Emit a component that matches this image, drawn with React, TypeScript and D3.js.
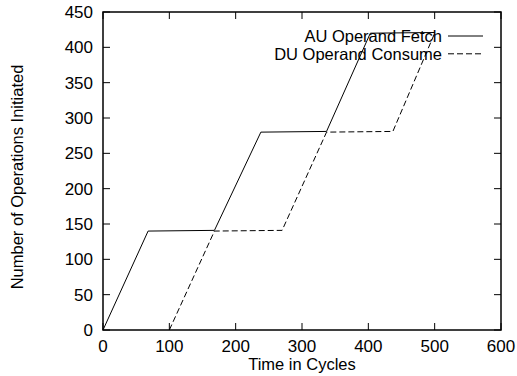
import { useEffect, useRef } from 'react';
import * as d3 from 'd3';

const xTicks = [0, 100, 200, 300, 400, 500, 600];
const yTicks = [0, 50, 100, 150, 200, 250, 300, 350, 400, 450];

const auCycles = [0, 68, 168, 238, 337, 403, 500];
const auOps = [0, 140, 141, 280, 281, 420, 421];
const duCycles = [100, 168, 270, 337, 437, 500];
const duOps = [0, 140, 141, 280, 281, 420];

const seriesNames = ['AU Operand Fetch', 'DU Operand Consume'];
const seriesDash = ['none', '6,3'];

const W = 517;
const H = 376;
const FONT = '"Liberation Sans", Arial, Helvetica, sans-serif';

export default function App() {
  const svgRef = useRef<SVGSVGElement>(null);

  useEffect(() => {
    if (!svgRef.current) return;
    const svg = d3.select(svgRef.current);
    svg.selectAll('*').remove();

    const margin = { top: 12, right: 16, bottom: 46, left: 103 };
    const w = W - margin.left - margin.right;
    const h = H - margin.top - margin.bottom;
    const g = svg.append('g').attr('transform', `translate(${margin.left},${margin.top})`);

    const x = d3.scaleLinear().domain([0, 600]).range([0, w]);
    const y = d3.scaleLinear().domain([0, 450]).range([h, 0]);
    const tickLen = 7;

    // Mirror ticks, all pointing inward (gnuplot style)
    xTicks.forEach(t => {
      g.append('line').attr('x1', x(t)).attr('x2', x(t)).attr('y1', h).attr('y2', h - tickLen)
        .attr('stroke', '#000').attr('stroke-width', 1);
      g.append('line').attr('x1', x(t)).attr('x2', x(t)).attr('y1', 0).attr('y2', tickLen)
        .attr('stroke', '#000').attr('stroke-width', 1);
      g.append('text').attr('x', x(t)).attr('y', h + 22).attr('text-anchor', 'middle')
        .attr('font-family', FONT).attr('font-size', '17px').attr('fill', '#000').text(t);
    });
    yTicks.forEach(t => {
      g.append('line').attr('x1', 0).attr('x2', tickLen).attr('y1', y(t)).attr('y2', y(t))
        .attr('stroke', '#000').attr('stroke-width', 1);
      g.append('line').attr('x1', w).attr('x2', w - tickLen).attr('y1', y(t)).attr('y2', y(t))
        .attr('stroke', '#000').attr('stroke-width', 1);
      g.append('text').attr('x', -10).attr('y', y(t)).attr('dy', '0.35em').attr('text-anchor', 'end')
        .attr('font-family', FONT).attr('font-size', '17px').attr('fill', '#000').text(t);
    });

    // Series
    const line = d3.line<[number, number]>().x(d => x(d[0])).y(d => y(d[1]));
    const series: [number, number][][] = [
      auCycles.map((c, i) => [c, auOps[i]]),
      duCycles.map((c, i) => [c, duOps[i]]),
    ];
    series.forEach((pts, i) => {
      g.append('path').datum(pts).attr('d', line).attr('fill', 'none')
        .attr('stroke', '#000').attr('stroke-width', 1)
        .attr('stroke-dasharray', seriesDash[i]);
    });

    // Legend
    seriesNames.forEach((name, i) => {
      const ly = 24 + i * 17.8;
      g.append('text').attr('x', 339).attr('y', ly).attr('dy', '0.35em').attr('text-anchor', 'end')
        .attr('font-family', FONT).attr('font-size', '16.5px').attr('fill', '#000').text(name);
      g.append('line').attr('x1', 345).attr('x2', 380).attr('y1', ly).attr('y2', ly)
        .attr('stroke', '#000').attr('stroke-width', 1).attr('stroke-dasharray', seriesDash[i]);
    });

    // Frame
    g.append('rect').attr('x', 0).attr('y', 0).attr('width', w).attr('height', h)
      .attr('fill', 'none').attr('stroke', '#000').attr('stroke-width', 1.5);

    // Axis titles
    svg.append('text').attr('x', margin.left + w / 2).attr('y', 370).attr('text-anchor', 'middle')
      .attr('font-family', FONT).attr('font-size', '16.5px').attr('fill', '#000').text('Time in Cycles');
    svg.append('text').attr('transform', `translate(23,177) rotate(-90)`).attr('text-anchor', 'middle')
      .attr('font-family', FONT).attr('font-size', '16.5px').attr('fill', '#000')
      .text('Number of Operations Initiated');
  }, []);

  return (
    <div style={{ position: 'fixed', left: 0, top: 0 }}>
      <svg ref={svgRef} width={W} height={H} style={{ display: 'block', background: '#fff' }} />
    </div>
  );
}
